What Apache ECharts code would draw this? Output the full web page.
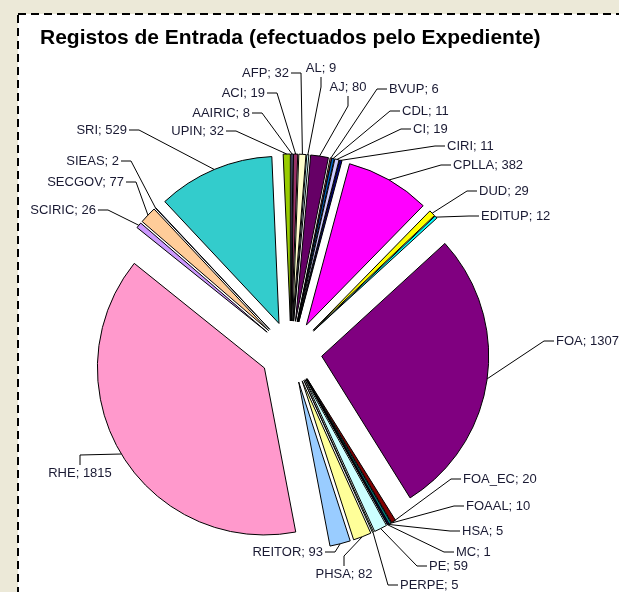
<!DOCTYPE html>
<html>
<head>
<meta charset="utf-8">
<script src="https://cdn.jsdelivr.net/npm/echarts@6/dist/echarts.min.js"></script>
<style>
  html, body { margin: 0; padding: 0; background: #ece9d8; }
  #chart { width: 619px; height: 592px; }
</style>
</head>
<body>
<div id="chart"></div>
<script>
// categories, in the order they go round the pie (clockwise from 12 o'clock)
const names = ['AAIRIC', 'ACI', 'AFP', 'AL', 'AJ', 'BVUP', 'CDL', 'CI', 'CIRI', 'CPLLA', 'DUD', 'EDITUP',
  'FOA', 'FOA_EC', 'FOAAL', 'HSA', 'MC', 'PE', 'PERPE', 'PHSA', 'REITOR', 'RHE', 'SCIRIC', 'SECGOV',
  'SIEAS', 'SRI', 'UPIN']
const values = [8, 19, 32, 9, 80, 6, 11, 19, 11, 382, 29, 12,
  1307, 20, 10, 5, 1, 59, 5, 82, 93, 1815, 26, 77,
  2, 529, 32]
// old excel palette
const colors = ['#9999ff', '#993366', '#ffffcc', '#ccffff', '#660066', '#ff8080', '#0066cc', '#ccccff', '#000080',
  '#ff00ff', '#ffff00', '#00ffff', '#800080', '#800000', '#008080', '#0000ff', '#00ccff', '#ccffff',
  '#ccffcc', '#ffff99', '#99ccff', '#ff99cc', '#cc99ff', '#ffcc99', '#3366ff', '#33cccc', '#99cc00']

// where excel put the labels: [x, y, side]
// L = text left of the leader end, R = right of it, B = below it, A = above it
const labelSpots = {
  AAIRIC: [250, 113, 'L'], ACI: [265, 93, 'L'], AFP: [289, 73, 'L'], AL: [321, 75, 'A'],
  AJ: [348, 94, 'A'], BVUP: [389, 89, 'R'], CDL: [402, 111, 'R'], CI: [413, 129, 'R'],
  CIRI: [447, 146, 'R'], CPLLA: [453, 165, 'R'], DUD: [479, 191, 'R'], EDITUP: [481, 216, 'R'],
  FOA: [556, 341, 'R'], FOA_EC: [463, 479, 'R'], FOAAL: [466, 506, 'R'], HSA: [462, 531, 'R'],
  MC: [456, 552, 'R'], PE: [429, 566, 'R'], PERPE: [400, 585, 'R'], PHSA: [344, 568, 'B'],
  REITOR: [323, 552, 'L'], RHE: [80, 467, 'B'], SCIRIC: [96, 210, 'L'], SECGOV: [124, 182, 'L'],
  SIEAS: [119, 161, 'L'], SRI: [127, 130, 'L'], UPIN: [224, 131, 'L']
}

const CX = 291, CY = 352, R = 167, EXPLODE = 31
const ELBOW = 10

const chart = echarts.init(document.getElementById('chart'))

const pieData = names.map((n, i) => ({ name: n, value: values[i], selected: true }))
const labelData = names.map((n, i) => ({ name: n, value: values[i] }))

function placeLabel(p) {
  const [x, y, side] = labelSpots[names[p.dataIndex]]
  const start = p.labelLinePoints ? p.labelLinePoints[0] : [x, y]
  let out, elbow, end
  if (side === 'L') {
    out = { x: x, y: y, align: 'right', verticalAlign: 'middle' }
    end = [x + 2, y]; elbow = [x + 2 + ELBOW, y]
  } else if (side === 'R') {
    out = { x: x, y: y, align: 'left', verticalAlign: 'middle' }
    end = [x - 2, y]; elbow = [x - 2 - ELBOW, y]
  } else if (side === 'B') {
    out = { x: x, y: y, align: 'center', verticalAlign: 'top' }
    end = [x, y - 2]; elbow = [x, y - 2 - ELBOW]
  } else {
    out = { x: x, y: y, align: 'center', verticalAlign: 'bottom' }
    end = [x, y + 2]; elbow = [x, y + 2 + ELBOW]
  }
  out.labelLinePoints = [start, elbow, end]
  return out
}

chart.setOption({
  animation: false,
  color: colors,
  title: {
    text: 'Registos de Entrada (efectuados pelo Expediente)',
    left: 40,
    top: 28,
    padding: 0,
    textStyle: { fontFamily: 'Liberation Sans, Arial, sans-serif', fontSize: 21, fontWeight: 'bold', color: '#000' }
  },
  graphic: [{
    type: 'rect',
    shape: { x: 18, y: 14, width: 620, height: 600 },
    style: { fill: '#fff', stroke: '#000', lineWidth: 2, lineDash: [8, 5] },
    z: -10
  }],
  series: [{
    // the exploded slices
    type: 'pie',
    center: [CX, CY],
    radius: R,
    startAngle: 90,
    clockwise: true,
    selectedMode: 'multiple',
    selectedOffset: EXPLODE,
    data: pieData,
    silent: true,
    itemStyle: { borderColor: '#000', borderWidth: 1 },
    select: { itemStyle: { borderColor: '#000', borderWidth: 1 } },
    emphasis: { disabled: true },
    label: { show: false },
    labelLine: { show: false }
  }, {
    // invisible twin that only carries the labels; its rim is where the exploded arcs sit
    type: 'pie',
    center: [CX, CY],
    radius: R + EXPLODE,
    startAngle: 90,
    clockwise: true,
    data: labelData,
    silent: true,
    z: 3,
    itemStyle: { color: 'rgba(0,0,0,0)', borderWidth: 0 },
    emphasis: { disabled: true },
    label: {
      formatter: '{b}; {c}',
      fontFamily: 'Liberation Sans, Arial, sans-serif',
      fontSize: 13,
      color: '#1a1a33'
    },
    labelLine: {
      length: 0,
      length2: 0,
      lineStyle: { color: '#000', width: 1 }
    },
    labelLayout: placeLabel
  }]
})
</script>
</body>
</html>
